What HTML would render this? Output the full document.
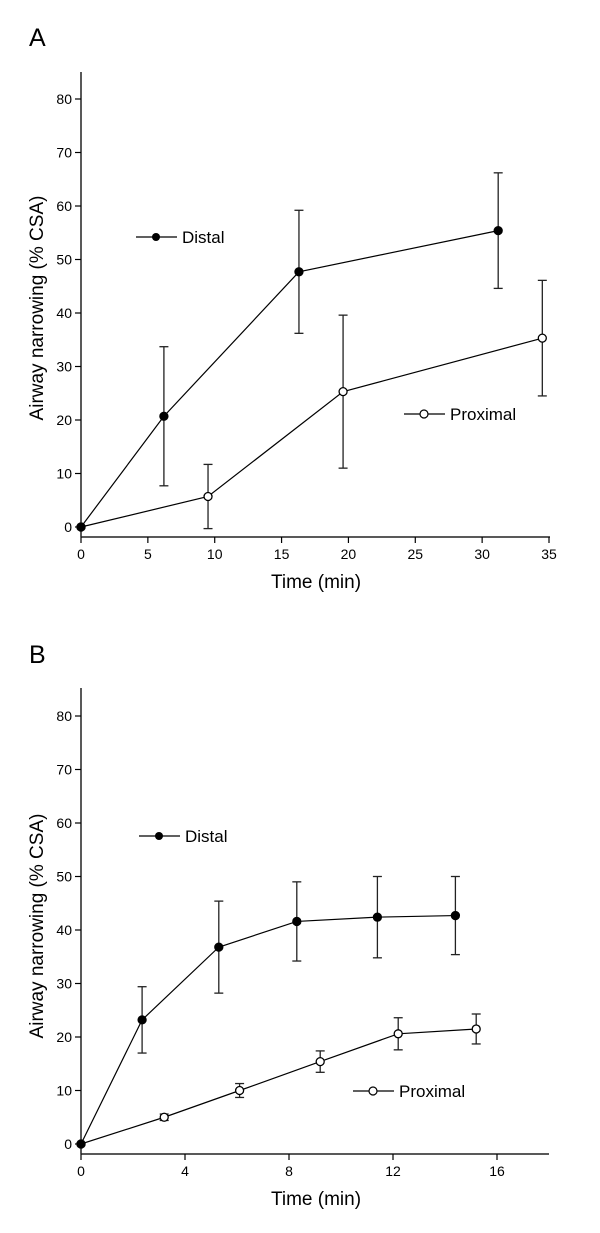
<!DOCTYPE html>
<html><head><meta charset="utf-8"><style>
body{margin:0;background:#fff}
svg{display:block;font-family:"Liberation Sans",Arial,sans-serif}
</style></head><body>
<svg id="c" width="600" height="1233"></svg>
<script>
// Panel A data
const aDistX=[0,6.2,16.3,31.2];
const aDistY=[0,20.7,47.7,55.4];
const aDistE=[0,13,11.5,10.8];
const aProxX=[0,9.5,19.6,34.5];
const aProxY=[0,5.7,25.3,35.3];
const aProxE=[0,6,14.3,10.8];
const aXTicks=[0,5,10,15,20,25,30,35];
// Panel B data
const bDistX=[0,2.35,5.3,8.3,11.4,14.4];
const bDistY=[0,23.2,36.8,41.6,42.4,42.7];
const bDistE=[0,6.2,8.6,7.4,7.6,7.3];
const bProxX=[0,3.2,6.1,9.2,12.2,15.2];
const bProxY=[0,5,10,15.4,20.6,21.5];
const bProxE=[0,0.6,1.3,2,3,2.8];
const bXTicks=[0,4,8,12,16];
const yTicks=[0,10,20,30,40,50,60,70,80];

const svg=document.getElementById('c');
const NS='http://www.w3.org/2000/svg';
function mk(t,a,name,txt){const e=document.createElementNS(NS,t);for(const k in a)e.setAttribute(k,a[k]);


if(txt!==undefined)e.textContent=txt;svg.appendChild(e);return e;}

function panel(p){
 const sx=v=>p.x0+v*(p.x1-p.x0)/p.xmax;
 const sy=v=>p.y0-v*(p.y0-p.y80)/80;
 mk('text',{x:p.lx,y:p.ly,'font-size':25},p.id+'-panel-label',p.label);
 mk('line',{x1:p.x0,y1:p.axTop,x2:p.x0,y2:p.axY,stroke:'#222','stroke-width':1.5},p.id+'-y-axis');
 mk('line',{x1:p.x0,y1:p.axY,x2:p.axRight,y2:p.axY,stroke:'#222','stroke-width':1.5},p.id+'-x-axis');
 yTicks.forEach(t=>{const y=sy(t);
  mk('line',{x1:p.x0-6,y1:y,x2:p.x0,y2:y,stroke:'#000','stroke-width':1.2},p.id+'-y-tick');
  mk('text',{x:p.x0-9,y:y+5,'font-size':14,'text-anchor':'end'},p.id+'-y-tick-label',t);});
 p.xt.forEach(t=>{const x=sx(t);
  mk('line',{x1:x,y1:p.axY,x2:x,y2:p.axY+6,stroke:'#000','stroke-width':1.2},p.id+'-x-tick');
  mk('text',{x:x,y:p.axY+22,'font-size':14,'text-anchor':'middle'},p.id+'-x-tick-label',t);});
 mk('text',{x:316,y:p.ty,'font-size':19,'text-anchor':'middle'},p.id+'-x-axis-title','Time (min)');
 mk('text',{x:0,y:0,'font-size':19,'text-anchor':'middle',transform:`translate(43,${p.yt}) rotate(-90)`},p.id+'-y-axis-title','Airway narrowing (% CSA)');
 function series(X,Y,E,filled,nm){
  mk('polyline',{points:X.map((v,i)=>sx(v)+','+sy(Y[i])).join(' '),fill:'none',stroke:'#000','stroke-width':1.2},nm+'-line');
  X.forEach((v,i)=>{const x=sx(v);
   if(E[i]>0){const t=sy(Y[i]+E[i]),b=sy(Y[i]-E[i]);
    mk('line',{x1:x,y1:t,x2:x,y2:b,stroke:'#222','stroke-width':1.3},nm+'-error-bar');
    mk('line',{x1:x-4.5,y1:t,x2:x+4.5,y2:t,stroke:'#222','stroke-width':1.3},nm+'-error-cap');
    mk('line',{x1:x-4.5,y1:b,x2:x+4.5,y2:b,stroke:'#222','stroke-width':1.3},nm+'-error-cap');}
   mk('circle',{cx:x,cy:sy(Y[i]),r:4,fill:filled?'#000':'#fff',stroke:'#000','stroke-width':1.3},nm+'-point');});
 }
 series(p.px,p.py,p.pe,false,p.id+'-proximal');
 series(p.dx,p.dy,p.de,true,p.id+'-distal');
 mk('line',{x1:p.ld[0],y1:p.ld[1],x2:p.ld[0]+41,y2:p.ld[1],stroke:'#000','stroke-width':1.2},p.id+'-legend-distal-line');
 mk('circle',{cx:p.ld[0]+20,cy:p.ld[1],r:4,fill:'#000'},p.id+'-legend-distal-marker');
 mk('text',{x:p.ld[0]+46,y:p.ld[1]+6,'font-size':17},p.id+'-legend-distal-label','Distal');
 mk('line',{x1:p.lp[0],y1:p.lp[1],x2:p.lp[0]+41,y2:p.lp[1],stroke:'#000','stroke-width':1.2},p.id+'-legend-proximal-line');
 mk('circle',{cx:p.lp[0]+20,cy:p.lp[1],r:4,fill:'#fff',stroke:'#000','stroke-width':1.2},p.id+'-legend-proximal-marker');
 mk('text',{x:p.lp[0]+46,y:p.lp[1]+6,'font-size':17},p.id+'-legend-proximal-label','Proximal');
}
panel({id:'a',label:'A',lx:29,ly:46,x0:81,x1:549,xmax:35,y0:527,y80:99,axTop:72,axY:537,axRight:550,xt:aXTicks,ty:588,yt:308,
 dx:aDistX,dy:aDistY,de:aDistE,px:aProxX,py:aProxY,pe:aProxE,ld:[136,237],lp:[404,414]});
panel({id:'b',label:'B',lx:29,ly:663,x0:81,x1:497,xmax:16,y0:1144,y80:716,axTop:688,axY:1154,axRight:549,xt:bXTicks,ty:1205,yt:926,
 dx:bDistX,dy:bDistY,de:bDistE,px:bProxX,py:bProxY,pe:bProxE,ld:[139,836],lp:[353,1091]});
</script>
</body></html>
